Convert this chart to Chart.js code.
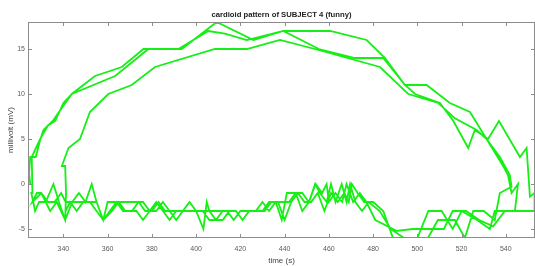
<!DOCTYPE html>
<html>
<head>
<meta charset="utf-8">
<script src="https://cdn.jsdelivr.net/npm/chart.js@4.4.1/dist/chart.umd.min.js"></script>
<style>
  html, body { margin: 0; padding: 0; background: #fff; }
</style>
</head>
<body>
<canvas id="cardioid" width="535" height="266"></canvas>
<script>
// Axis ticks
const timeTicks = [340, 360, 380, 400, 420, 440, 460, 480, 500, 520, 540];
const voltTicks = [-5, 0, 5, 10, 15];
const chartTitle = 'cardioid pattern of SUBJECT 4 (funny)';

// Loop 1: outer left side, top arc with the 18 mV peak, right side, bottom band
const loopOne = [
    [325, 0], [324.5, 1.2], [325, 3], [327.5, 3], [329.5, 4.9], [331, 6], [335.5, 7.1], [338, 8],
    [343.8, 10], [354.3, 12], [366.4, 13], [376.2, 15], [393.5, 15], [409.3, 18], [425.9, 16],
    [439.4, 17], [460.6, 17], [477.1, 16], [485.4, 14], [494.4, 11], [504.2, 11], [514.7, 9],
    [523.8, 8], [531.3, 5], [537.3, 3], [541.8, 1], [542.6, -0.3], [537.3, -1], [535, -4],
    [530, -3], [525.3, -3], [521.5, -6], [517, -4], [509.3, -4], [504.8, -6], [495.8, -6],
    [489, -6], [484.6, -3],
    [480, -2], [476, -2], [473, -1], [470.4, 0], [469, -2], [467, -1], [464, -2], [461, -1],
    [458, -3], [455, -1], [452, -2], [449, -2], [446, -1], [443, -2], [440, -4], [437, -2],
    [434, -2], [431, -3], [420, -3], [417, -4], [414, -3], [386, -3], [383, -2], [380, -3],
    [377, -3], [374, -2], [371, -3], [368, -3], [365, -2], [362, -3], [358, -4], [355, -2],
    [352.8, 0], [350, -2], [347, -1], [344, -2], [340.8, -4], [338, -2], [335.5, 0], [332, -2],
    [329, -2], [327.2, -3], [325.5, -1]
];

// Loop 2: second outer loop, peak about 17 mV
const loopTwo = [
    [326, -1], [325.7, 3], [329.5, 5], [333, 6.5], [336.3, 7], [340, 9], [343.8, 10],
    [363.4, 12], [378.4, 15], [392, 15], [405.5, 17], [413, 16.7], [422.9, 16], [439.4, 17],
    [455.5, 15], [471.8, 14], [484.6, 14], [494.4, 11], [499, 10], [510.2, 9], [516.3, 7],
    [523, 4], [526, 6], [532, 5], [536.9, 7], [546.4, 3], [549.4, 4], [550.9, -1.4], [553, -1],
    [553, -3], [539.6, -3], [534.3, -4.7], [528, -4], [522, -3], [516, -3], [512, -5],
    [505, -5], [498, -5], [490.6, -5.2], [481, -4], [477, -2],
    [474, -1], [471, -2], [468, 0], [466, -2], [463, -1], [460, -2], [459, 0], [457, -1],
    [454, 0], [451, -2], [448, -1], [445, -1], [442, -2], [439, -2], [436, -2], [433, -3],
    [430, -2], [427, -3], [424, -3], [421, -4], [418, -3], [415, -3], [412, -4], [409, -4],
    [406, -3], [404.8, -2], [403.3, -5], [400, -3], [397, -2], [394, -3], [391, -4], [388, -3],
    [385, -2], [382, -3], [379, -3], [376, -2], [360, -2], [358, -4], [355, -2], [341, -2],
    [339, -1], [336, -2], [333, -2], [330, -1], [328, -1], [326, -2],
    [330, -1], [334, -3], [337, -2], [340.8, -4]
];

// Loop 3: inner loop, flat top near 15 mV
const loopThree = [
    [341.2, -1], [340.8, 2], [339.3, 2], [342.3, 4], [347.5, 5], [352, 8], [360.3, 10],
    [370.9, 11], [381.4, 13], [408.5, 15], [422.9, 15], [437.9, 16], [453.7, 15], [483.1, 13],
    [495.9, 10], [509.5, 9], [517, 7.3], [526.8, 6], [531.3, 5], [538.8, 2], [541, 1],
    [542.6, -1], [545.5, 0], [544.1, -3], [539, -3], [535, -3], [532.8, -5], [527, -4],
    [520, -3], [516, -5], [511, -3], [505, -3], [500, -6], [494, -6], [488, -5], [483, -3],
    [478, -2],
    [475, -3], [472, -2], [469.6, 0], [468, -2], [465.8, 0], [463, -2], [461, 0], [459, -2],
    [456, -1], [453.8, 0], [451, -2], [448, -3], [445, -1], [441, -1], [438.7, -4], [436, -2],
    [433, -2], [430, -3], [427, -3], [424, -3], [421, -4], [418, -3], [415, -3], [412, -3],
    [409, -4], [406, -4], [403, -3], [400, -3], [397, -2], [394, -3], [391, -3], [388, -4],
    [385, -3], [382, -2], [379, -3], [376, -4], [373, -3], [370, -3], [367, -3], [364, -2],
    [361, -3], [358, -4], [355, -3], [352, -2], [349, -2], [346, -3], [343, -2], [341, -3]
];

const trace = loopOne.concat(loopTwo, loopThree).map(p => ({ x: p[0], y: p[1] }));

const axisGray = '#8c8c8c';
const labelGray = '#5a5a5a';
const fontFamily = 'Liberation Sans, Arial, sans-serif';
const tickLen = 4;

// MATLAB style box with inward ticks on all four sides, title centred over the axes
const boxPlugin = {
    id: 'matlabBox',
    afterDatasetsDraw(chart) {
        const { ctx, chartArea: a, scales: { x, y } } = chart;
        ctx.save();
        ctx.strokeStyle = axisGray;
        ctx.lineWidth = 1;
        ctx.strokeRect(a.left + 0.5, a.top + 0.5, a.right - a.left - 1, a.bottom - a.top - 1);
        ctx.beginPath();
        x.ticks.forEach(t => {
            const px = Math.round(x.getPixelForValue(t.value)) + 0.5;
            ctx.moveTo(px, a.bottom);
            ctx.lineTo(px, a.bottom - tickLen);
            ctx.moveTo(px, a.top);
            ctx.lineTo(px, a.top + tickLen);
        });
        y.ticks.forEach(t => {
            const py = Math.round(y.getPixelForValue(t.value)) + 0.5;
            ctx.moveTo(a.left, py);
            ctx.lineTo(a.left + tickLen, py);
            ctx.moveTo(a.right, py);
            ctx.lineTo(a.right - tickLen, py);
        });
        ctx.stroke();

        ctx.fillStyle = '#222';
        ctx.font = 'bold 7.7px ' + fontFamily;
        ctx.textAlign = 'center';
        ctx.textBaseline = 'middle';
        ctx.fillText(chartTitle, (a.left + a.right) / 2, 15);
        ctx.restore();
    }
};

new Chart(document.getElementById('cardioid'), {
    type: 'scatter',
    data: {
        datasets: [{
            data: trace,
            showLine: true,
            borderColor: 'rgb(22, 238, 22)',
            borderWidth: 1.8,
            pointRadius: 0,
            tension: 0,
            fill: false
        }]
    },
    options: {
        responsive: false,
        animation: false,
        devicePixelRatio: 1,
        layout: { padding: { top: 22, right: 0, bottom: 0, left: 0 } },
        plugins: {
            legend: { display: false },
            tooltip: { enabled: false },
            title: { display: false }
        },
        scales: {
            x: {
                type: 'linear',
                min: 324,
                max: 553.2,
                grid: { display: false, drawTicks: false },
                border: { display: false },
                afterBuildTicks: scale => { scale.ticks = timeTicks.map(v => ({ value: v })); },
                afterFit: scale => { scale.height = 28; },
                ticks: {
                    color: labelGray,
                    padding: 7,
                    maxRotation: 0,
                    font: { family: fontFamily, size: 7 }
                },
                title: {
                    display: true,
                    text: 'time (s)',
                    color: '#444',
                    padding: { top: 0, bottom: 0 },
                    font: { family: fontFamily, size: 8 }
                }
            },
            y: {
                min: -6,
                max: 18,
                grid: { display: false, drawTicks: false },
                border: { display: false },
                afterBuildTicks: scale => { scale.ticks = voltTicks.map(v => ({ value: v })); },
                afterFit: scale => { scale.width = 28; },
                ticks: {
                    color: labelGray,
                    padding: 3,
                    font: { family: fontFamily, size: 7 }
                },
                title: {
                    display: true,
                    text: 'millivolt (mV)',
                    color: '#444',
                    padding: { top: 5.5, bottom: 0 },
                    font: { family: fontFamily, size: 8 }
                }
            }
        }
    },
    plugins: [boxPlugin]
});
</script>
</body>
</html>
